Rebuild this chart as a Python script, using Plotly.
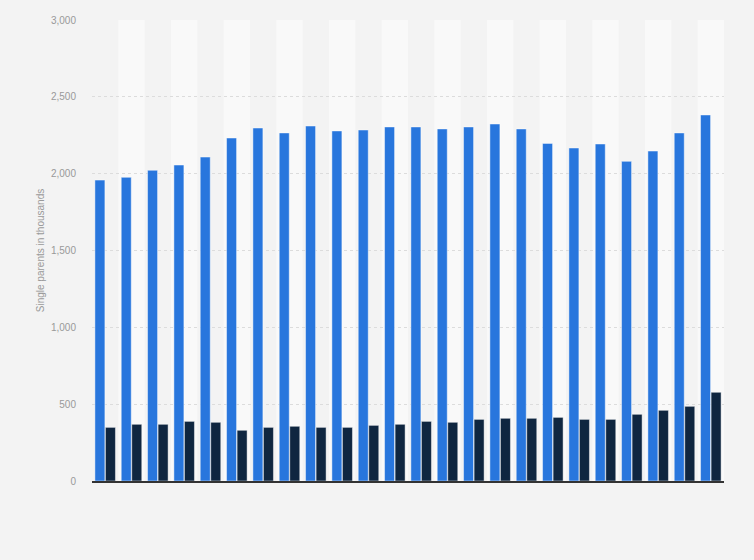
import plotly.graph_objects as go

# Data (thousands)
years = [str(y) for y in range(1996, 2020)]
series_a = [1958, 1976, 2022, 2056, 2108, 2232, 2297, 2265, 2310, 2278, 2284, 2304,
            2304, 2291, 2304, 2323, 2291, 2197, 2167, 2193, 2080, 2147, 2265, 2382]
series_b = [349, 369, 369, 388, 382, 330, 349, 356, 349, 349, 362, 369,
            388, 382, 401, 408, 408, 414, 401, 401, 434, 460, 486, 577]

fig = go.Figure()
fig.add_trace(go.Bar(x=years, y=series_a, name="Series A",
                     marker_color="#2876dd",
                     marker_line=dict(color="rgba(255,255,255,0.45)", width=1)))
fig.add_trace(go.Bar(x=years, y=series_b, name="Series B",
                     marker_color="#0f2640",
                     marker_line=dict(color="rgba(255,255,255,0.45)", width=1)))

# alternating column bands
for i in range(1, len(years), 2):
    fig.add_shape(type="rect", xref="x", yref="paper",
                  x0=i - 0.5, x1=i + 0.5, y0=0, y1=1,
                  fillcolor="#f9f9f9", line_width=0, layer="below")

fig.update_layout(
    width=754, height=560,
    margin=dict(l=92, r=30, t=20, b=79),
    paper_bgcolor="#f3f3f3", plot_bgcolor="#f3f3f3",
    barmode="group", bargap=0.2, bargroupgap=0.05,
    showlegend=False,
    font=dict(family="Liberation Sans, Arial, sans-serif", size=10, color="#999999"),
)
fig.update_xaxes(showticklabels=False, showgrid=False, ticks="", automargin=False,
                 showline=True, linecolor="#333333", linewidth=1.5)
fig.update_yaxes(range=[0, 3000], tickvals=[0, 500, 1000, 1500, 2000, 2500, 3000],
                 tickformat=",", showgrid=True, gridcolor="#dcdcdc", griddash="dot",
                 zeroline=False, ticks="", ticklabelstandoff=15, automargin=False,
                 title=dict(text="Single parents in thousands", standoff=4,
                            font=dict(size=10, color="#999999")))

# drop the page's default body margin so the figure sits at the window origin
fig.write_html("out.html", config={"displayModeBar": False},
               post_script="document.body.style.margin='0';")
